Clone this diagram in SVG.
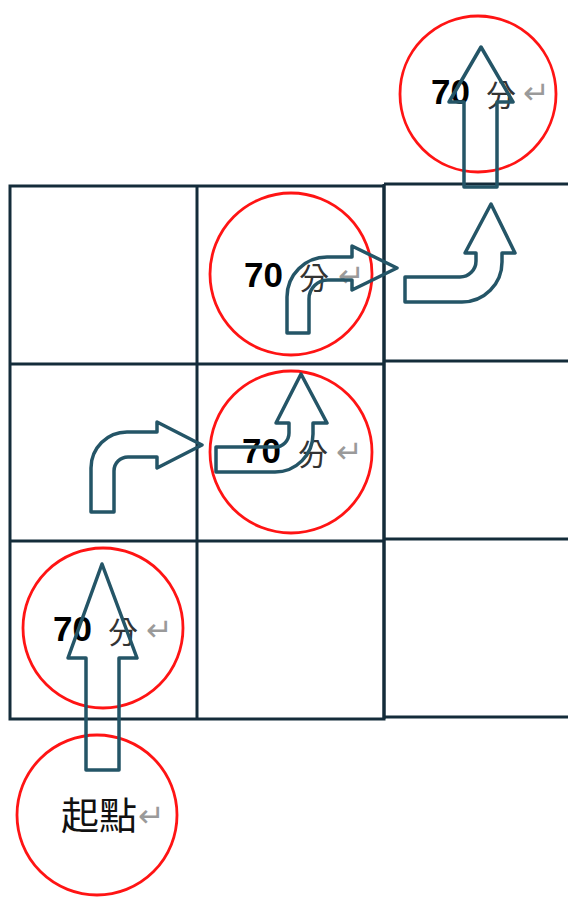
<svg xmlns="http://www.w3.org/2000/svg" width="568" height="901" viewBox="0 0 568 901">
<style>
.grid{fill:none;stroke:#142c3a;stroke-width:3}
.c{fill:none;stroke:#ff1414;stroke-width:2.8}
.a{fill:none;stroke:#245567;stroke-width:3.5;stroke-linejoin:round}
.n{font-family:"Liberation Sans",Arial,sans-serif;font-weight:bold;font-size:35px;fill:#000}
.f{font-family:"Noto Sans CJK TC","Noto Sans CJK SC",sans-serif;font-size:30px;fill:#333}
.r{font-family:"DejaVu Sans",sans-serif;font-size:32px;fill:#9a9a9a}
.s{font-family:"Noto Sans CJK TC","Noto Sans CJK SC",serif;font-size:38px;fill:#111}
</style>
<rect width="568" height="901" fill="#fff"/>
<g id="grid">
<rect class="grid" x="10" y="186" width="374" height="533"/>
<line class="grid" x1="197" y1="186" x2="197" y2="719"/>
<line class="grid" x1="10" y1="364" x2="384" y2="364"/>
<line class="grid" x1="10" y1="541" x2="384" y2="541"/>
<path class="grid" d="M384,184 H570 M384,361 H570 M384,539 H570 M384,717 H570 M384,184 V719"/>
</g>
<g id="node-top">
<circle class="c" cx="478" cy="94" r="78"/>
<text class="n" x="431" y="104">70</text><text class="f" x="486" y="106">分</text><text class="r" x="523" y="104">↵</text>
</g>
<g id="node-r3c2">
<circle class="c" cx="291" cy="274" r="81"/>
<text class="n" x="244" y="287">70</text><text class="f" x="299" y="289">分</text><text class="r" x="338" y="287">↵</text>
</g>
<g id="node-r2c2">
<circle class="c" cx="291" cy="452" r="81"/>
<text class="n" x="242" y="463">70</text><text class="f" x="298" y="465">分</text><text class="r" x="336" y="463">↵</text>
</g>
<g id="node-r1c1">
<circle class="c" cx="103" cy="628" r="80"/>
<text class="n" x="53" y="641">70</text><text class="f" x="108" y="643">分</text><text class="r" x="146" y="641">↵</text>
</g>
<g id="node-start">
<circle class="c" cx="97" cy="815" r="80"/>
<text class="s" x="61" y="829">起點</text><text class="r" x="138" y="827">↵</text>
</g>
<g id="connectors">
<path class="a" d="M86,770 V658 H68 L102,564 L137,658 H119 V770 Z"/>
<path class="a" d="M91,512 V468 A36,36 0 0 1 127,432 H157 V422 L202,445 L157,468 V457 H128 A14,14 0 0 0 114,471 V512 Z"/>
<path class="a" d="M216,447 H275 A14,14 0 0 0 289,433 V423 H276 L301,374 L327,423 H313 V434 A38,38 0 0 1 275,472 H216 Z"/>
<path class="a" d="M287,333 V297 A40,40 0 0 1 327,257 H352 V246 L397,268 L352,290 V280 H328 A19,19 0 0 0 309,299 V333 Z"/>
<path class="a" d="M405,277 H460 A16,16 0 0 0 476,261 V253 H465 L491,204 L515,253 H502 V262 A40,40 0 0 1 462,302 H405 Z"/>
<path class="a" d="M464,187 V102 H449 L481,47 L513,102 H497 V187 Z"/>
</g>
</svg>
